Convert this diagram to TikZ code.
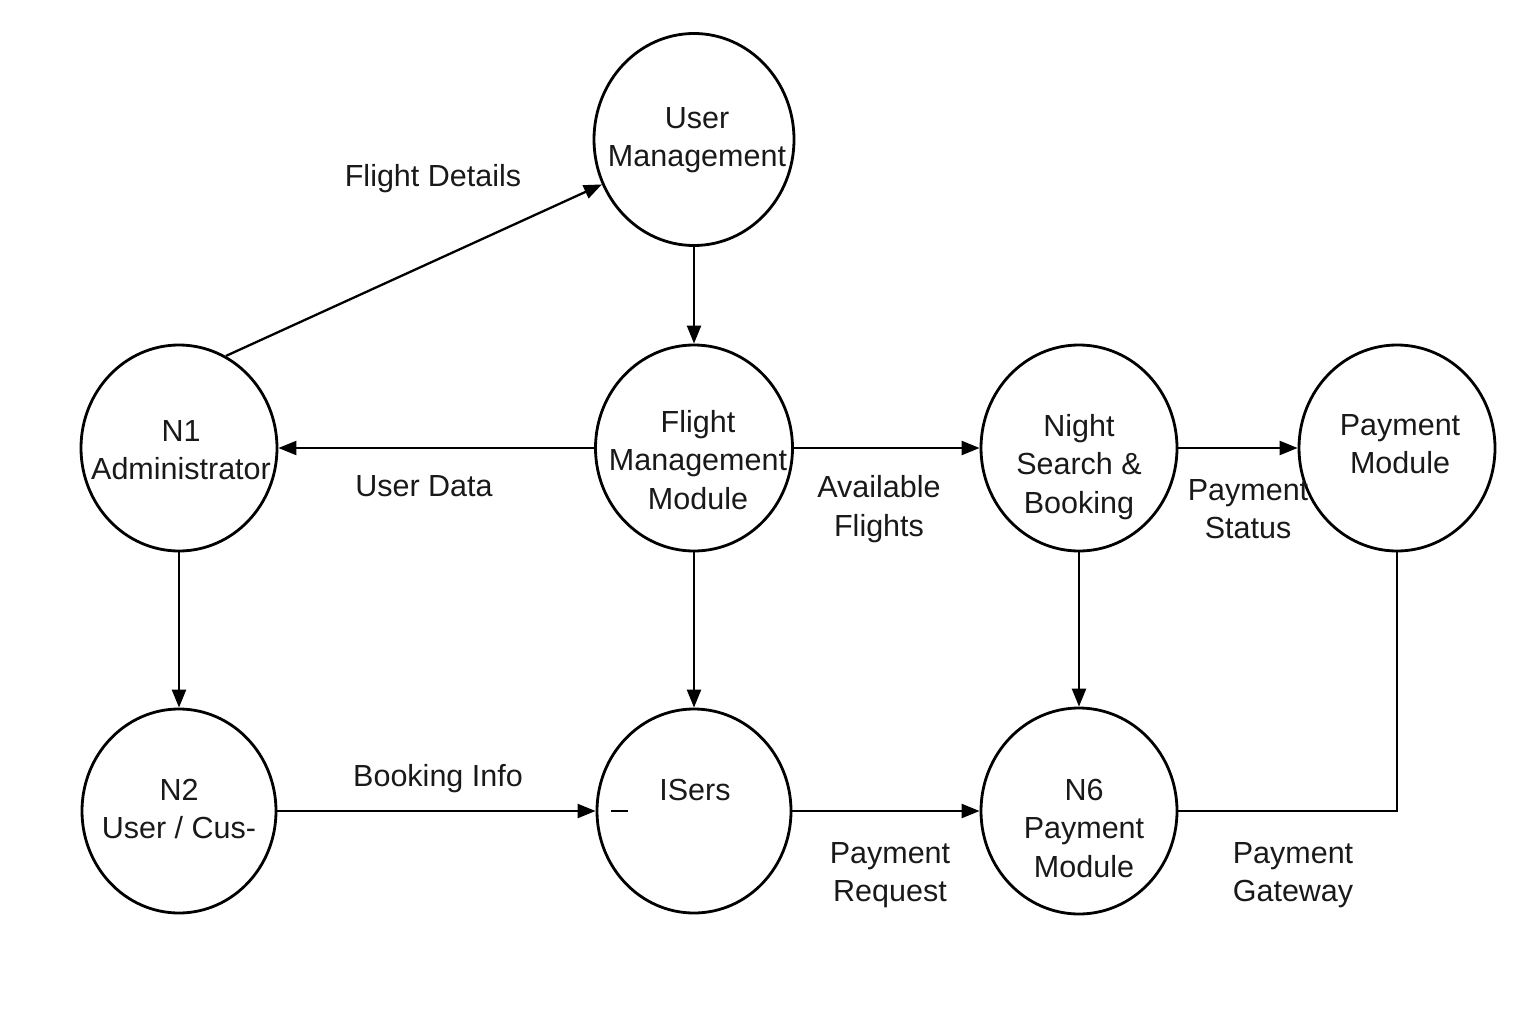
\documentclass[tikz,border=0pt]{standalone}
\usepackage{fontspec}
\setmainfont{Liberation Sans}
\usetikzlibrary{shapes.geometric,arrows.meta}
\begin{document}
\begin{tikzpicture}[x=1pt,y=-1pt,
  proc/.style={ellipse, draw, line width=2.8pt, inner sep=0pt, minimum width=196pt, minimum height=206pt},
  txt/.style={align=center, inner sep=0pt, font=\fontsize{30.5}{38.5}\selectfont, text=black!90, yshift=-3pt},
  flow/.style={line width=2.3pt, -{Triangle[length=18pt,width=14pt]}},
  plain/.style={line width=2.3pt}]
\useasboundingbox (0,0) rectangle (1536,1024);
% processes
\node[proc, minimum width=200pt, minimum height=212pt] (um) at (694,139.5) {};
\node[proc] (n1) at (179,448) {};
\node[proc, minimum width=197pt] (fmm) at (694,448) {};
\node[proc] (nsb) at (1079,448) {};
\node[proc] (pm) at (1397,448) {};
\node[proc, minimum width=194pt, minimum height=204pt] (n2) at (179,811) {};
\node[proc, minimum width=194pt, minimum height=204pt] (isr) at (694,811) {};
\node[proc] (n6) at (1079,811) {};
% texts in processes
\node[txt] (umt) at (697,137) {User\\Management};
\node[txt] (n1t) at (181,447) {N1\\Administrator};
\node[txt] (fmmt) at (698,457) {Flight\\Management\\Module};
\node[txt] (nsbt) at (1079,464) {Night\\Search \&\\Booking};
\node[txt] (pmt) at (1400,441) {Payment\\Module};
\node[txt] (n2t) at (179,806) {N2\\User / Cus-};
\node[txt] (isrt) at (695,787) {ISers};
\node[txt] (n6t) at (1084,825) {N6\\Payment\\Module};
\draw[line width=1.8pt] (611,811) -- (628,811);
% connectors
\draw[flow] (n1.63) -- (um.206);
\draw[flow] (um.south) -- (fmm.north);
\draw[flow] (fmm.west) -- (n1.east);
\draw[flow] (fmm.east) -- (nsb.west);
\draw[flow] (nsb.east) -- (pm.west);
\draw[flow] (n1.south) -- (n2.north);
\draw[flow] (fmm.south) -- (isr.north);
\draw[flow] (nsb.south) -- (n6.north);
\draw[flow] (n2.east) -- (isr.west);
\draw[flow] (isr.east) -- (n6.west);
\draw[plain] (pm.south) |- (n6.east);
% labels
\node[txt] (l1) at (433,176) {Flight Details};
\node[txt] (l2) at (424,483) {User Data};
\node[txt] (l3) at (879,506) {Available\\Flights};
\node[txt] (l4) at (1248,506) {Payment\\Status};
\node[txt] (l5) at (438,776) {Booking Info};
\node[txt] (l6) at (890,872) {Payment\\Request};
\node[txt] (l7) at (1293,872) {Payment\\Gateway};
\end{tikzpicture}
\end{document}
